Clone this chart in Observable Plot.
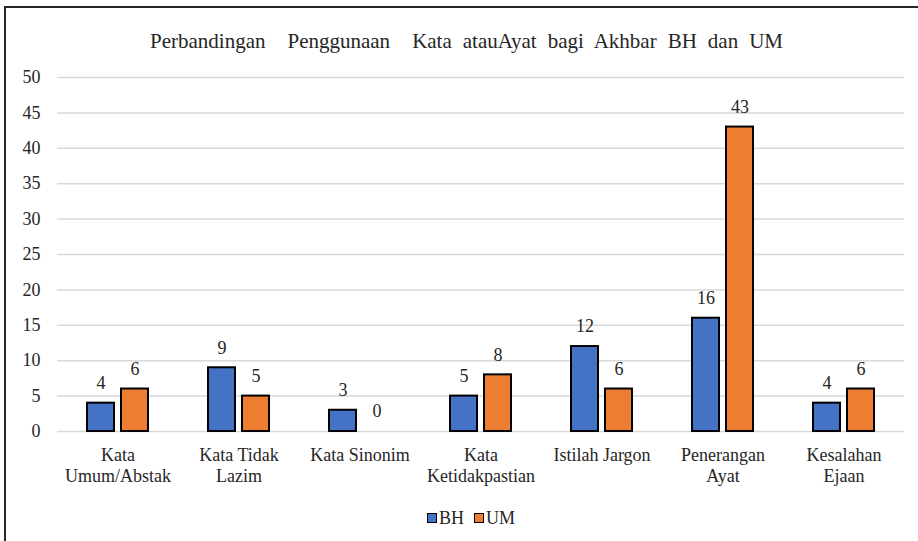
<!DOCTYPE html>
<html>
<head>
<meta charset="utf-8">
<script src="https://cdn.jsdelivr.net/npm/d3@7"></script>
<script src="https://cdn.jsdelivr.net/npm/@observablehq/plot@0.6"></script>
</head>
<body style="margin:0;padding:0;background:#fff;">
<div id="wrap" style="position:relative;width:918px;height:541px;overflow:hidden;background:#fff;color:#262626;font-family:'Liberation Serif';">
  <div id="frame" style="position:absolute;left:4px;top:6px;width:1000px;height:1000px;border:2.5px solid #262626;box-sizing:border-box;"></div>
  <div id="title" style="position:absolute;left:0;top:27px;width:933px;text-align:center;font-size:21px;line-height:28px;white-space:pre;font-family:'Liberation Serif';"><span id="titleText" style="font-family:'Liberation Serif';"></span></div>
  <div id="chart" style="position:absolute;left:0;top:60px;"></div>
  <div id="legend" style="position:absolute;left:0;top:505px;width:942px;text-align:center;font-size:18px;line-height:24px;font-family:'Liberation Serif';"></div>
</div>
<script>
const titleText = "Perbandingan  Penggunaan  Kata atauAyat bagi Akhbar BH dan UM";
const categories = ["Kata Umum/Abstak", "Kata Tidak Lazim", "Kata Sinonim", "Kata Ketidakpastian", "Istilah Jargon", "Penerangan Ayat", "Kesalahan Ejaan"];
const categoryLabels = ["Kata\nUmum/Abstak", "Kata Tidak\nLazim", "Kata Sinonim", "Kata\nKetidakpastian", "Istilah Jargon", "Penerangan\nAyat", "Kesalahan\nEjaan"];
const series = ["BH", "UM"];
const colors = ["#4472C4", "#ED7D31"];
const bhValues = [4, 9, 3, 5, 12, 16, 4];
const umValues = [6, 5, 0, 8, 6, 43, 6];
const yTicks = [0, 5, 10, 15, 20, 25, 30, 35, 40, 45, 50];
const FONT = "Liberation Serif";

const tt = document.getElementById("titleText");
tt.textContent = titleText;
// stretch word spacing so the title spans the same width as the reference
const w0 = tt.getBoundingClientRect().width;
const nSpaces = (titleText.match(/ /g) || []).length;
tt.style.wordSpacing = Math.max(0, (633 - w0) / nSpaces) + "px";

const data = categories.flatMap((c, i) => [
  {cat: c, series: "BH", value: bhValues[i]},
  {cat: c, series: "UM", value: umValues[i]}
]);
const labelOf = new Map(categories.map((c, i) => [c, categoryLabels[i]]));

const chart = Plot.plot({
  width: 918,
  height: 440,
  marginTop: 17,
  marginBottom: 69,
  marginLeft: 55,
  marginRight: 13,
  style: {fontFamily: FONT, fontSize: "18px", color: "#262626", background: "transparent"},
  fx: {domain: categories, padding: 0, label: null, axis: null},
  x: {domain: series, paddingInner: 0.2, paddingOuter: 0.83, axis: null},
  y: {domain: [0, 50], label: null, axis: null},
  color: {domain: series, range: colors},
  marks: [
    Plot.gridY(yTicks, {stroke: "#d9d9d9", strokeOpacity: 1, strokeWidth: 1.5}),
    Plot.barY(data, {filter: d => d.value > 0, fx: "cat", x: "series", y: "value", fill: "series", stroke: "#000", strokeWidth: 2}),
    Plot.text(data, {fx: "cat", x: "series", y: "value", text: d => String(d.value), dy: -20, fontSize: 18, fontFamily: FONT, fill: "#262626"}),
    Plot.axisY(yTicks, {tickSize: 0, tickPadding: 17, fontSize: 18, fontFamily: FONT, label: null}),
    Plot.axisFx({anchor: "bottom", tickSize: 0, tickPadding: 14, fontSize: 18, fontFamily: FONT, lineHeight: 1.2, label: null, tickFormat: d => labelOf.get(d)})
  ]
});
document.getElementById("chart").appendChild(chart);

const legend = document.getElementById("legend");
series.forEach((s, i) => {
  const k = document.createElement("span");
  k.style.cssText = "display:inline-flex;align-items:center;margin:0 5px;font-family:'Liberation Serif';";
  const sw = document.createElement("span");
  sw.style.cssText = "display:inline-block;width:8px;height:8px;border:1.5px solid #000;margin-right:2px;";
  sw.style.background = colors[i];
  const t = document.createElement("span");
  t.textContent = s;
  k.appendChild(sw); k.appendChild(t);
  legend.appendChild(k);
});
</script>
</body>
</html>
